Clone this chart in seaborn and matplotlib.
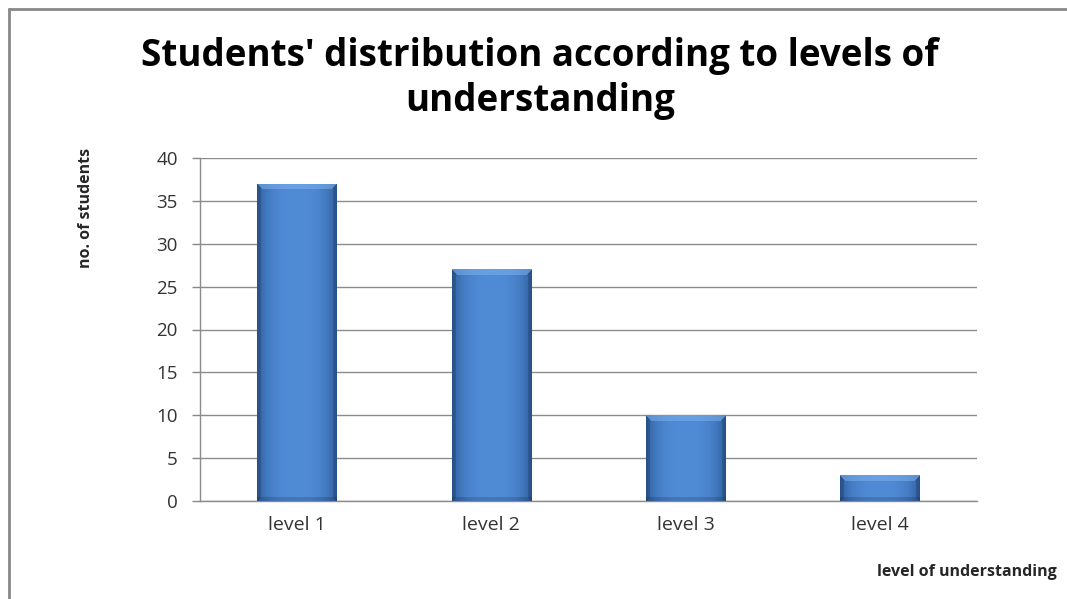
import numpy as np
import pandas as pd
import matplotlib
matplotlib.use("Agg")
import matplotlib.pyplot as plt
import seaborn as sns
from matplotlib.lines import Line2D

categories = ["level 1", "level 2", "level 3", "level 4"]
students = [37, 27, 10, 3]
yticks = [0, 5, 10, 15, 20, 25, 30, 35, 40]

title = "Students' distribution according to levels of\nunderstanding"
ylabel = "no. of students"
xlabel = "level of understanding"

sns.set_theme(style="white")
plt.rcParams['font.family'] = ['Open Sans', 'DejaVu Sans']

fig = plt.figure(figsize=(10.67, 5.99), dpi=100)
ax = fig.add_axes([200/1067, 1-501/599, 777/1067, (501-158)/599])

df = pd.DataFrame({"level": categories, "n": students})
sns.barplot(data=df, x="level", y="n", ax=ax, color="#4A7EBB", width=0.41,
            saturation=1, edgecolor="none", zorder=3)

ax.set_xlim(-0.5, len(categories) - 0.5)
ax.set_ylim(0, 40)
ax.set_yticks(yticks)
ax.set_yticklabels([str(v) for v in yticks], fontsize=13.5, color="#333333")
ax.set_xticks(range(len(categories)))
ax.set_xticklabels(categories, fontsize=14, color="#333333")
ax.tick_params(axis="x", which="major", length=0, pad=11)
ax.set_xticks(np.arange(-0.5, len(categories), 1.0), minor=True)
ax.tick_params(axis="x", which="minor", length=6, color="#888888", width=1, direction="out")
ax.tick_params(axis="y", length=6, color="#888888", width=1, direction="out", left=True, pad=10)
ax.yaxis.grid(True, color="#8c8c8c", linewidth=1, zorder=0)
ax.set_axisbelow(True)
for s in ["top", "right"]:
    ax.spines[s].set_visible(False)
for s in ["left", "bottom"]:
    ax.spines[s].set_color("#8c8c8c")
    ax.spines[s].set_linewidth(1)
ax.set_xlabel("")
ax.set_ylabel("")

# gradient / bevel fill for bars
fig.canvas.draw()
center = np.array([0x50, 0x8B, 0xD6]) / 255
edge = np.array([0x2F, 0x5E, 0x9C]) / 255
top_light = np.array([0x7C, 0xB0, 0xEC]) / 255
for p in list(ax.patches):
    x0, y0 = p.get_x(), p.get_y()
    w, h = p.get_width(), p.get_height()
    (px0, py0), (px1, py1) = ax.transData.transform([(x0, y0), (x0 + w, y0 + h)])
    wp = max(int(round(px1 - px0)), 2)
    hp = max(int(round(py1 - py0)), 2)
    xs = (np.arange(wp) + 0.5) / wp
    t = np.abs(xs - 0.5) * 2
    base = center[None, :] * (1 - t[:, None] ** 3) + edge[None, :] * (t[:, None] ** 3)
    img = np.tile(base[None, :, :], (hp, 1, 1))
    ys = np.broadcast_to(np.arange(hp)[:, None], (hp, wp))
    dx = np.broadcast_to(np.minimum(np.arange(wp), wp - 1 - np.arange(wp))[None, :], (hp, wp))
    bevel = 6
    topmask = (ys < bevel) & (ys <= dx)
    img[topmask] = img[topmask] * 0.45 + top_light * 0.55
    sidemask = (dx < 4) & (ys > dx) & (ys < hp - dx)
    img[sidemask] = img[sidemask] * 0.85
    botmask = (ys >= hp - 4)
    img[botmask] = img[botmask] * 0.85
    im = ax.imshow(img, extent=(x0, x0 + w, y0, y0 + h), aspect="auto",
                   origin="upper", zorder=4, interpolation="bilinear")
    im.set_clip_path(p)
    p.set_alpha(0)
ax.set_xlim(-0.5, len(categories) - 0.5)
ax.set_ylim(0, 40)

fig.suptitle(title, x=540/1067, y=1-37/599, fontsize=26.5, fontweight="bold",
             color="black", va="top", linespacing=1.25)
fig.text(86/1067, 1-208/599, ylabel, rotation=90, fontsize=11.5, fontweight="bold",
         ha="center", va="center")
fig.text(1057/1067, 1-572/599, xlabel, fontsize=11.5, fontweight="bold",
         ha="right", va="center")

# chart frame border (left and top)
fig.add_artist(Line2D([9/1067, 9/1067], [0, 1-9/599], transform=fig.transFigure,
                      color="#888888", linewidth=2))
fig.add_artist(Line2D([9/1067, 1], [1-9/599, 1-9/599], transform=fig.transFigure,
                      color="#888888", linewidth=2))

fig.savefig("out.png", dpi=100)
